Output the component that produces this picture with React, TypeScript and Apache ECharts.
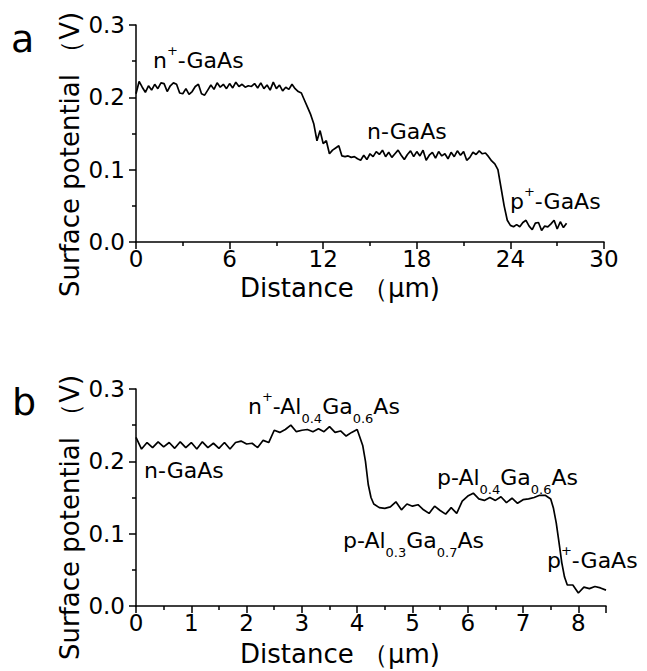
import React, { useEffect, useRef } from "react";
import * as echarts from "echarts";

// Panel a: GaAs p-n junction (distance in µm, surface potential in V)
const distanceA = [
  0.0, 0.2, 0.4, 0.6, 0.8, 1.0, 1.2, 1.4, 1.6, 1.8, 2.0, 2.2, 2.4, 2.6, 2.8, 3.0, 3.2, 3.4, 3.6, 3.8,
  4.0, 4.2, 4.4, 4.6, 4.8, 5.0, 5.2, 5.4, 5.6, 5.8, 6.0, 6.2, 6.4, 6.6, 6.8, 7.0, 7.2, 7.4, 7.6, 7.8,
  8.0, 8.2, 8.4, 8.6, 8.8, 9.0, 9.2, 9.4, 9.6, 9.8, 10.0, 10.2, 10.4, 10.6, 10.8, 11.0, 11.2, 11.4, 11.6, 11.8,
  12.0, 12.2, 12.4, 12.6, 12.8, 13.0, 13.2, 13.4, 13.6, 13.8, 14.0, 14.2, 14.4, 14.6, 14.8, 15.0, 15.2, 15.4, 15.6, 15.8,
  16.0, 16.2, 16.4, 16.6, 16.8, 17.0, 17.2, 17.4, 17.6, 17.8, 18.0, 18.2, 18.4, 18.6, 18.8, 19.0, 19.2, 19.4, 19.6, 19.8,
  20.0, 20.2, 20.4, 20.6, 20.8, 21.0, 21.2, 21.4, 21.6, 21.8, 22.0, 22.2, 22.4, 22.6, 22.8, 23.0, 23.2, 23.4, 23.6, 23.8,
  24.0, 24.2, 24.4, 24.6, 24.8, 25.0, 25.2, 25.4, 25.6, 25.8, 26.0, 26.2, 26.4, 26.6, 26.8, 27.0, 27.2, 27.4, 27.6,
];
const potentialA = [
  0.205, 0.222, 0.214, 0.207, 0.216, 0.210, 0.218, 0.212, 0.220, 0.219, 0.208, 0.216, 0.220, 0.218, 0.206, 0.205, 0.212, 0.204, 0.208, 0.215,
  0.218, 0.205, 0.203, 0.210, 0.217, 0.211, 0.220, 0.214, 0.218, 0.212, 0.219, 0.213, 0.221, 0.215, 0.218, 0.214, 0.216, 0.215, 0.219, 0.213,
  0.220, 0.212, 0.217, 0.210, 0.221, 0.212, 0.217, 0.209, 0.214, 0.211, 0.218, 0.212, 0.208, 0.206, 0.196, 0.186, 0.176, 0.163, 0.140, 0.154,
  0.136, 0.140, 0.122, 0.127, 0.130, 0.133, 0.119, 0.118, 0.119, 0.117, 0.118, 0.115, 0.113, 0.120, 0.114, 0.122, 0.118, 0.125, 0.121, 0.127,
  0.118, 0.124, 0.117, 0.122, 0.127, 0.120, 0.114, 0.121, 0.126, 0.118, 0.125, 0.119, 0.127, 0.113, 0.120, 0.124, 0.116, 0.125, 0.119, 0.122,
  0.115, 0.124, 0.118, 0.126, 0.120, 0.125, 0.113, 0.117, 0.124, 0.121, 0.126, 0.122, 0.123, 0.118, 0.112, 0.108, 0.100, 0.075, 0.050, 0.030,
  0.023, 0.021, 0.024, 0.021, 0.027, 0.030, 0.022, 0.017, 0.026, 0.027, 0.016, 0.022, 0.021, 0.025, 0.030, 0.018, 0.028, 0.020, 0.026,
];

// Panel b: AlGaAs/GaAs structure
const distanceB = [
  0.0, 0.1, 0.2, 0.3, 0.4, 0.5, 0.6, 0.7, 0.8, 0.9, 1.0, 1.1, 1.2, 1.3, 1.4, 1.5, 1.6, 1.7, 1.8, 1.9,
  2.0, 2.1, 2.2, 2.3, 2.4, 2.5, 2.6, 2.7, 2.8, 2.9, 3.0, 3.1, 3.2, 3.3, 3.4, 3.5, 3.6, 3.7, 3.8, 3.9,
  4.0, 4.1, 4.15, 4.2, 4.25, 4.3, 4.4, 4.5, 4.6, 4.7, 4.8, 4.9, 5.0, 5.1, 5.2, 5.3, 5.4, 5.5, 5.6, 5.7,
  5.8, 5.9, 6.0, 6.1, 6.2, 6.3, 6.4, 6.5, 6.6, 6.7, 6.8, 6.9, 7.0, 7.1, 7.2, 7.3, 7.4, 7.5, 7.55, 7.6,
  7.65, 7.7, 7.75, 7.8, 7.9, 8.0, 8.1, 8.2, 8.3, 8.4, 8.5,
];
const potentialB = [
  0.233, 0.217, 0.226, 0.219, 0.227, 0.220, 0.226, 0.218, 0.227, 0.219, 0.226, 0.217, 0.227, 0.219, 0.225, 0.218, 0.226, 0.217, 0.226, 0.228,
  0.224, 0.225, 0.219, 0.229, 0.226, 0.243, 0.240, 0.244, 0.250, 0.241, 0.243, 0.244, 0.241, 0.245, 0.241, 0.248, 0.240, 0.242, 0.235, 0.240,
  0.244, 0.222, 0.200, 0.168, 0.150, 0.141, 0.136, 0.135, 0.137, 0.144, 0.133, 0.141, 0.138, 0.140, 0.133, 0.128, 0.138, 0.132, 0.127, 0.136,
  0.128, 0.145, 0.152, 0.156, 0.148, 0.146, 0.150, 0.146, 0.151, 0.143, 0.149, 0.142, 0.147, 0.148, 0.150, 0.153, 0.153, 0.148, 0.135, 0.115,
  0.088, 0.060, 0.040, 0.029, 0.029, 0.018, 0.026, 0.024, 0.027, 0.025, 0.022,
];

const panelLabels = ["a", "b"];
const yTitle = "Surface potential （V)";
const xTitle = "Distance （μm)";
const annotationsA = [
  "{m|n}{sup|+}{m|-GaAs}",
  "{m|n-GaAs}",
  "{m|p}{sup|+}{m|-GaAs}",
];
const annotationsB = [
  "{m|n}{sup|+}{m|-Al}{sub|0.4}{m|Ga}{sub|0.6}{m|As}",
  "{m|n-GaAs}",
  "{m|p-Al}{sub|0.3}{m|Ga}{sub|0.7}{m|As}",
  "{m|p-Al}{sub|0.4}{m|Ga}{sub|0.6}{m|As}",
  "{m|p}{sup|+}{m|-GaAs}",
];

const FONT = "DejaVu Sans";

export default function App() {
  const ref = useRef<HTMLDivElement>(null);

  useEffect(() => {
    document.body.style.margin = "0";
    const chart = echarts.init(ref.current!, null, { renderer: "svg" });

    const black = "#000";
    const axisBase = {
      axisLine: { show: true, onZero: false, lineStyle: { color: black, width: 1.5 } },
      axisTick: { show: true, inside: false, length: 7, lineStyle: { color: black, width: 1.5 } },
      minorTick: { show: true, splitNumber: 2, length: 4, lineStyle: { color: black, width: 1.5 } },
      splitLine: { show: false },
      minorSplitLine: { show: false },
    };
    const xLabel = { color: black, fontFamily: FONT, fontSize: 23, margin: 5 };
    const yLabel = {
      color: black,
      fontFamily: FONT,
      fontSize: 23,
      margin: 11,
      formatter: (v: number) => v.toFixed(1),
    };

    const PAD = 6;
    const rich = {
      m: {
        fontSize: 22,
        lineHeight: 22,
        fontFamily: FONT,
        fill: black,
        color: black,
        verticalAlign: "top",
        padding: [PAD, 0, 0, 0],
      },
      sup: { fontSize: 13, lineHeight: 13, fontFamily: FONT, fill: black, color: black, verticalAlign: "top" },
      sub: {
        fontSize: 13,
        lineHeight: 13,
        fontFamily: FONT,
        fill: black,
        color: black,
        verticalAlign: "top",
        padding: [16 + PAD, 0, 0, 0],
      },
    };

    const annot = (text: string, x: number, baseline: number) => ({
      type: "text",
      x,
      y: baseline - 17.5 - PAD,
      silent: true,
      style: { text, rich, fill: black, align: "left", verticalAlign: "top", fontFamily: FONT, fontSize: 22 },
    });

    const plain = (text: string, x: number, y: number, size: number, rotation = 0) => ({
      type: "text",
      x,
      y,
      rotation,
      silent: true,
      style: {
        text,
        fill: black,
        fontFamily: FONT,
        fontSize: size,
        align: "left",
        verticalAlign: "middle",
      },
    });

    const posA = [
      [153, 67],
      [367, 138],
      [510, 208],
    ];
    const posB = [
      [248, 413],
      [144, 477],
      [343, 547],
      [437, 484],
      [547, 567],
    ];

    chart.setOption({
      animation: false,
      backgroundColor: "#fff",
      grid: [
        { left: 136, top: 25, width: 468, height: 217 },
        { left: 136, top: 389, width: 470, height: 217 },
      ],
      xAxis: [
        {
          ...axisBase,
          type: "value",
          gridIndex: 0,
          min: 0,
          max: 30,
          interval: 6,
          axisLabel: xLabel,
        },
        {
          ...axisBase,
          type: "value",
          gridIndex: 1,
          min: 0,
          max: 8.5,
          interval: 1,
          axisLabel: { ...xLabel, showMaxLabel: false },
        },
      ],
      yAxis: [
        { ...axisBase, type: "value", gridIndex: 0, min: 0, max: 0.3, interval: 0.1, axisLabel: yLabel },
        { ...axisBase, type: "value", gridIndex: 1, min: 0, max: 0.3, interval: 0.1, axisLabel: yLabel },
      ],
      series: [
        {
          type: "line",
          xAxisIndex: 0,
          yAxisIndex: 0,
          showSymbol: false,
          symbol: "none",
          lineStyle: { color: black, width: 1.7 },
          data: distanceA.map((d, i) => [d, potentialA[i]]),
        },
        {
          type: "line",
          xAxisIndex: 1,
          yAxisIndex: 1,
          showSymbol: false,
          symbol: "none",
          lineStyle: { color: black, width: 1.7 },
          data: distanceB.map((d, i) => [d, potentialB[i]]),
        },
      ],
      graphic: [
        plain(panelLabels[0], 11, 50 - 11.3, 38),
        plain(panelLabels[1], 12, 413 - 11.3, 38),
        plain(yTitle, 70, 297, 26, Math.PI / 2),
        plain(yTitle, 70, 660, 26, Math.PI / 2),
        plain(xTitle, 240, 296 - 7.8, 26),
        plain(xTitle, 240, 662 - 7.8, 26),
        ...annotationsA.map((t, i) => annot(t, posA[i][0], posA[i][1])),
        ...annotationsB.map((t, i) => annot(t, posB[i][0], posB[i][1])),
      ],
    });

    return () => chart.dispose();
  }, []);

  return <div ref={ref} style={{ width: 647, height: 671 }} />;
}
